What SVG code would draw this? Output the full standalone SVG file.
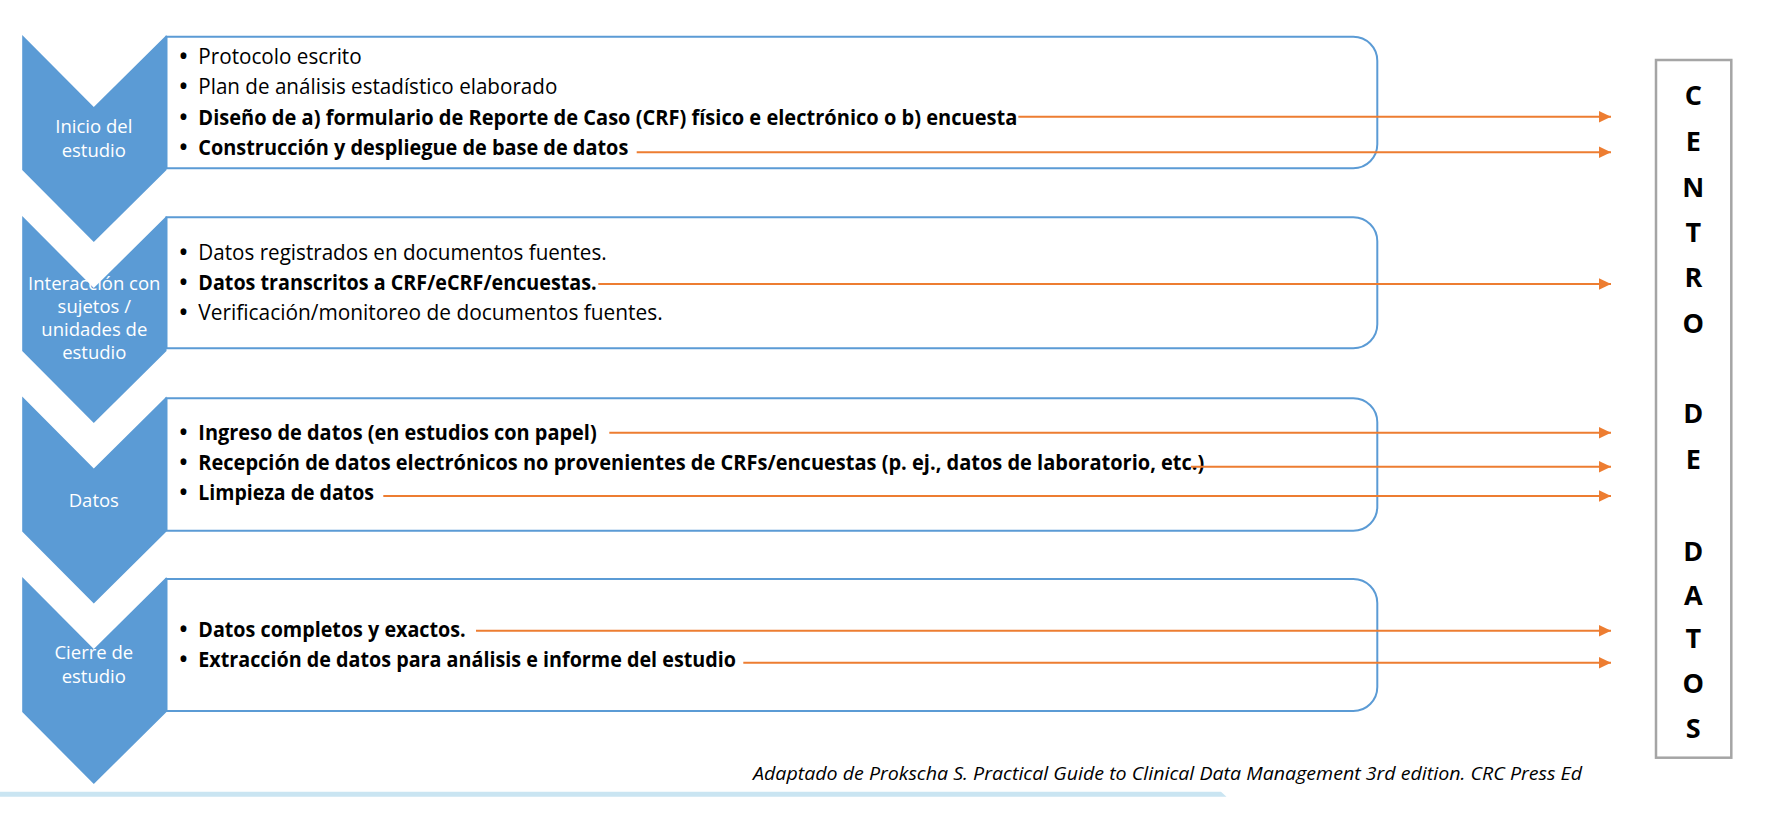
<svg xmlns="http://www.w3.org/2000/svg" width="1768" height="832" viewBox="0 0 1768 832">
<defs>
<style>
.chev{fill:#5B9BD5}
.clab{font-family:"Open Sans","Liberation Sans",sans-serif;font-size:18.5px;fill:#ffffff;text-anchor:middle}
.box{fill:#ffffff;stroke:#5B9BD5;stroke-width:2}
.t{font-family:"Open Sans","Liberation Sans",sans-serif;font-size:21px;fill:#000000}
.b{font-weight:bold}
.bul{font-family:"Open Sans","Liberation Sans",sans-serif;font-size:21px;font-weight:bold;fill:#000000;text-anchor:middle}
.conn line{stroke:#ED7D31;stroke-width:2;fill:none}
.cd{fill:#ffffff;stroke:#A5A5A5;stroke-width:2.5}
.cdl{font-family:"Open Sans","Liberation Sans",sans-serif;font-size:27px;font-weight:bold;fill:#000000;text-anchor:middle}
.foot{font-family:"Open Sans","Liberation Sans",sans-serif;font-size:18px;font-style:italic;fill:#000000}
</style>
<marker id="ah" markerUnits="userSpaceOnUse" viewBox="0 0 12 12" refX="12" refY="6" markerWidth="12" markerHeight="12" orient="auto">
<path d="M0,0.3 L12,6 L0,11.7 Z" fill="#ED7D31"/>
</marker>
</defs>
<rect width="1768" height="832" fill="#ffffff"/>

<g id="stage1-box">
<path class="box" d="M166.5,36.7 H1353.3 A24,24 0 0 1 1377.3,60.7 V144.3 A24,24 0 0 1 1353.3,168.3 H166.5 Z"/>
<text class="bul" x="183.5" y="63.5">•</text>
<text class="t" x="198.3" y="63.5" textLength="163.4" lengthAdjust="spacingAndGlyphs">Protocolo escrito</text>
<text class="bul" x="183.5" y="94">•</text>
<text class="t" x="198.3" y="94" textLength="359" lengthAdjust="spacingAndGlyphs">Plan de análisis estadístico elaborado</text>
<text class="bul" x="183.5" y="124.5">•</text>
<text class="t b" x="198.3" y="124.5" textLength="819" lengthAdjust="spacingAndGlyphs">Diseño de a) formulario de Reporte de Caso (CRF) físico e electrónico o b) encuesta</text>
<text class="bul" x="183.5" y="155">•</text>
<text class="t b" x="198.3" y="155" textLength="430" lengthAdjust="spacingAndGlyphs">Construcción y despliegue de base de datos</text>
</g>
<g id="stage1-chevron">
<polygon class="chev" points="22.2,35 93.8,107 166.5,35 166.5,170 93.8,242 22.2,170"/>
<text class="clab" x="93.8" y="133.3">Inicio del</text>
<text class="clab" x="93.8" y="156.7">estudio</text>
</g>

<g id="stage2-box">
<path class="box" d="M166.5,217.3 H1353.3 A24,24 0 0 1 1377.3,241.3 V324.3 A24,24 0 0 1 1353.3,348.3 H166.5 Z"/>
<text class="bul" x="183.5" y="260">•</text>
<text class="t" x="198.3" y="260" textLength="408.4" lengthAdjust="spacingAndGlyphs">Datos registrados en documentos fuentes.</text>
<text class="bul" x="183.5" y="290">•</text>
<text class="t b" x="198.3" y="290" textLength="398.4" lengthAdjust="spacingAndGlyphs">Datos transcritos a CRF/eCRF/encuestas.</text>
<text class="bul" x="183.5" y="320">•</text>
<text class="t" x="198.3" y="320" textLength="464.4" lengthAdjust="spacingAndGlyphs">Verificación/monitoreo de documentos fuentes.</text>
</g>
<g id="stage2-chevron">
<polygon class="chev" points="22.2,216 93.8,288 166.5,216 166.5,351 93.8,423 22.2,351"/>
<text class="clab" x="94.3" y="290">Interacción con</text>
<text class="clab" x="94.3" y="313">sujetos /</text>
<text class="clab" x="94.3" y="336">unidades de</text>
<text class="clab" x="94.3" y="359">estudio</text>
</g>

<g id="stage3-box">
<path class="box" d="M166.5,398.3 H1353.3 A24,24 0 0 1 1377.3,422.3 V506.7 A24,24 0 0 1 1353.3,530.7 H166.5 Z"/>
<text class="bul" x="183.5" y="440">•</text>
<text class="t b" x="198.3" y="440" textLength="398.4" lengthAdjust="spacingAndGlyphs">Ingreso de datos (en estudios con papel)</text>
<text class="bul" x="183.5" y="470">•</text>
<text class="t b" x="198.3" y="470" textLength="1006" lengthAdjust="spacingAndGlyphs">Recepción de datos electrónicos no provenientes de CRFs/encuestas (p. ej., datos de laboratorio, etc.)</text>
<text class="bul" x="183.5" y="500">•</text>
<text class="t b" x="198.3" y="500" textLength="175.7" lengthAdjust="spacingAndGlyphs">Limpieza de datos</text>
</g>
<g id="stage3-chevron">
<polygon class="chev" points="22.2,396.5 93.8,468.5 166.5,396.5 166.5,531.5 93.8,603.5 22.2,531.5"/>
<text class="clab" x="93.8" y="506.7">Datos</text>
</g>

<g id="stage4-box">
<path class="box" d="M166.5,579 H1353.3 A24,24 0 0 1 1377.3,603 V687 A24,24 0 0 1 1353.3,711 H166.5 Z"/>
<text class="bul" x="183.5" y="637">•</text>
<text class="t b" x="198.3" y="637" textLength="267.4" lengthAdjust="spacingAndGlyphs">Datos completos y exactos.</text>
<text class="bul" x="183.5" y="667">•</text>
<text class="t b" x="198.3" y="667" textLength="537.7" lengthAdjust="spacingAndGlyphs">Extracción de datos para análisis e informe del estudio</text>
</g>
<g id="stage4-chevron">
<polygon class="chev" points="22.2,577 93.8,649 166.5,577 166.5,712 93.8,784 22.2,712"/>
<text class="clab" x="93.8" y="659.3">Cierre de</text>
<text class="clab" x="93.8" y="683.3">estudio</text>
</g>

<g id="centro-de-datos">
<rect class="cd" x="1656" y="60" width="75.3" height="697.7"/>
<text class="cdl" x="1693.3" y="104.7">C</text>
<text class="cdl" x="1693.3" y="151">E</text>
<text class="cdl" x="1693.3" y="196.7">N</text>
<text class="cdl" x="1693.3" y="241.7">T</text>
<text class="cdl" x="1693.3" y="287.3">R</text>
<text class="cdl" x="1693.3" y="333">O</text>
<text class="cdl" x="1693.3" y="423">D</text>
<text class="cdl" x="1693.3" y="469.3">E</text>
<text class="cdl" x="1693.3" y="560.7">D</text>
<text class="cdl" x="1693.3" y="605.3">A</text>
<text class="cdl" x="1693.3" y="648">T</text>
<text class="cdl" x="1693.3" y="693.3">O</text>
<text class="cdl" x="1693.3" y="738.3">S</text>
</g>

<g id="connectors" class="conn">
<line x1="1018.3" y1="116.7" x2="1611" y2="116.7" marker-end="url(#ah)"/>
<line x1="636.7" y1="152.3" x2="1611" y2="152.3" marker-end="url(#ah)"/>
<line x1="598.3" y1="284" x2="1611" y2="284" marker-end="url(#ah)"/>
<line x1="609.3" y1="432.7" x2="1611" y2="432.7" marker-end="url(#ah)"/>
<line x1="1191" y1="466.7" x2="1611" y2="466.7" marker-end="url(#ah)"/>
<line x1="383.3" y1="496" x2="1611" y2="496" marker-end="url(#ah)"/>
<line x1="476" y1="630.7" x2="1611" y2="630.7" marker-end="url(#ah)"/>
<line x1="743.3" y1="662.7" x2="1611" y2="662.7" marker-end="url(#ah)"/>
</g>

<g id="footnote">
<text class="foot" x="753" y="780" textLength="829" lengthAdjust="spacingAndGlyphs">Adaptado de Prokscha S. Practical Guide to Clinical Data Management 3rd edition. CRC Press Ed</text>
</g>
<g id="bottom-band">
<polygon points="0,791.7 1221,791.7 1226.5,796.7 0,796.7" fill="#CAE5F2"/>
</g>
</svg>
